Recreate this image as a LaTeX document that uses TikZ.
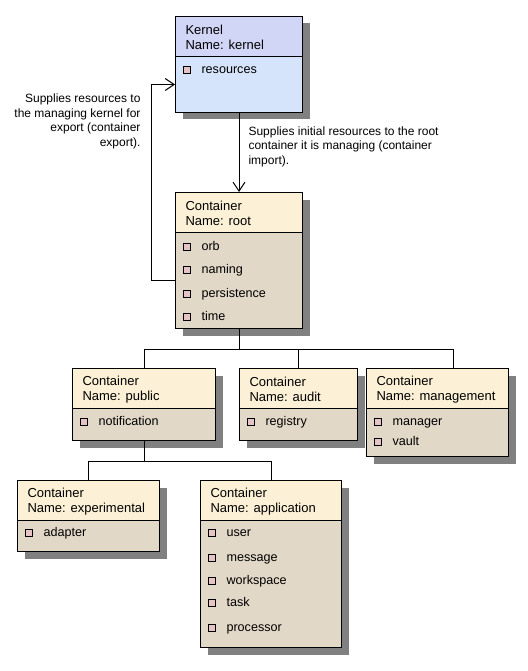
\documentclass[tikz,border=0pt]{standalone}
\usepackage{fontspec}
\setmainfont{Liberation Sans}
\usetikzlibrary{arrows.meta}
\usetikzlibrary{shadows}
\usetikzlibrary{positioning}

\definecolor{kernelhead}{RGB}{210,214,246}
\definecolor{kernelbody}{RGB}{214,228,251}
\definecolor{containerhead}{RGB}{252,240,214}
\definecolor{containerbody}{RGB}{226,216,200}
\definecolor{bulletfill}{RGB}{228,196,196}
\definecolor{shadowgray}{RGB}{128,128,128}

% box: #1 colour scheme, #2 name, #3 x, #4 y, #5 width, #6 height, #7 title
\newcommand{\classbox}[7][container]{%
  \node[body, #1, minimum width=#5, minimum height=#6] (#2) at (#3,#4) {};
  \node[head, #1 head, minimum width=#5, minimum height=40] (#2-h) at (#3,#4) {};
  \node[title] (#2-t) at ([shift={(10,21.5)}]#2.north west) {#7};
}
% items: #1 x of the box, #2 list name/y
\newcommand{\classitems}[2]{%
  \foreach \n/\y in {#2} {
    \node[bullet] (\n-b) at (#1+11.5,\y) {};
    \node[item] (\n) at (#1+26,\y) {\n};
  }
}

\begin{document}
\begin{tikzpicture}[x=1pt, y=-1pt, line width=1pt,
    font=\fontsize{12}{14.5}\selectfont,
    body/.style={draw, anchor=north west, inner sep=0,
      drop shadow={shadow xshift=7pt, shadow yshift=-7pt, fill=shadowgray, opacity=1}},
    head/.style={draw, anchor=north west, inner sep=0},
    kernel/.style={fill=kernelbody},
    kernel head/.style={fill=kernelhead},
    container/.style={fill=containerbody},
    container head/.style={fill=containerhead},
    title/.style={anchor=west, align=left, inner sep=0, font=\fontsize{13}{15}\selectfont},
    item/.style={anchor=west, inner sep=0, text height=9pt, text depth=2.5pt,
      font=\fontsize{12.6}{15}\selectfont},
    bullet/.style={draw, fill=bulletfill, line width=0.8pt, minimum size=7pt, inner sep=0},
    note/.style={inner sep=0},
    >={Straight Barb[length=9pt, width=12pt]}]
    \fill[white] (0,0) rectangle (527,671);
    \useasboundingbox (0,0) rectangle (527,671);

    \classbox[kernel]{kernel}{175}{16}{127}{96}{Kernel\\Name: kernel}
    \classitems{175}{resources/70}

    \classbox{root}{175}{192}{127}{136}{Container\\Name: root}
    \classitems{175}{orb/247, naming/270, persistence/294, time/317}

    \classbox{public}{72}{368}{143}{72}{Container\\Name: public}
    \classitems{72}{notification/422}

    \classbox{audit}{239}{368}{118}{72}{Container\\Name: audit}
    \classitems{239}{registry/422}

    \classbox{management}{366}{368}{142}{88}{Container\\Name: management}
    \classitems{366}{manager/422, vault/442}

    \classbox{experimental}{17}{480}{142}{71}{Container\\Name: experimental}
    \classitems{17}{adapter/533}

    \classbox{application}{200}{480}{141}{167}{Container\\Name: application}
    \classitems{200}{user/533, message/558, workspace/581, task/603, processor/628}

    \node[note, anchor=east, align=right] (exportnote) at (141,121.5)
      {Supplies resources to\\the managing kernel for\\export (container\\export).};
    \node[note, anchor=west, align=left] (importnote) at (248,146.5)
      {Supplies initial resources to the root\\container it is managing (container\\import).};

    \draw[->] (kernel) -- (root);
    \draw[->] ([yshift=-20pt]root.west) -- ++(-24,0) |- ([yshift=-20pt]kernel.west);

    \draw (root.south) -- ++(0,20) coordinate (fork);
    \draw (fork) -| (public);
    \draw (fork) -| (audit);
    \draw (fork) -| ([xshift=16pt]management.north);

    \draw (public.south) -- ++(0,20) coordinate (subfork);
    \draw (subfork) -| (experimental);
    \draw (subfork) -| (application);
\end{tikzpicture}
\end{document}
